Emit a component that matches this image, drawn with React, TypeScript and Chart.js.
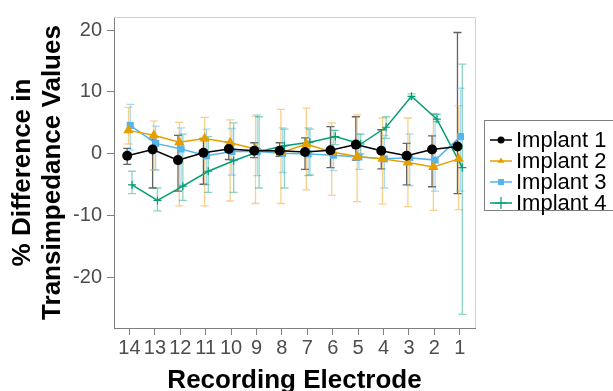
import React, { useEffect, useRef } from 'react';
import { Chart, registerables } from 'chart.js';

Chart.register(...registerables);

// ---- data ----
const electrodes = ['14', '13', '12', '11', '10', '9', '8', '7', '6', '5', '4', '3', '2', '1'];
const yTickValues = [-20, -10, 0, 10, 20];

const implant1 = [-0.3, 0.7, -1.0, 0.2, 0.8, 0.5, 0.5, 0.3, 0.6, 1.5, 0.5, -0.3, 0.7, 1.2];
const implant1Low = [-1.7, -5.5, -6.0, -4.9, -0.9, -0.6, -0.4, -2.5, -2.2, -1.0, -2.4, -5.0, -5.3, -6.4];
const implant1High = [0.9, 2.4, 3.0, 2.5, 1.9, 1.8, 1.8, 2.6, 4.4, 6.0, 3.9, 1.7, 2.9, 19.6];

const implant2 = [3.8, 3.0, 1.9, 2.5, 1.8, 0.8, 0.2, 1.6, 0.3, -0.4, -0.8, -1.4, -2.1, -0.8];
const implant2Low = [1.6, -2.6, -8.4, -8.4, -7.6, -8.0, -8.0, -5.8, -6.7, -7.7, -8.1, -8.5, -9.1, -9.0];
const implant2High = [7.5, 5.3, 5.1, 5.9, 5.5, 6.1, 7.2, 7.4, 5.0, 6.3, 5.8, 5.8, 6.5, 7.8];

const implant3 = [4.6, 1.7, 0.8, -0.3, 0.4, 0.4, 0.1, 0.0, -0.2, -0.5, -0.8, -0.6, -1.0, 2.8];
const implant3Low = [0.6, -2.6, -5.0, -5.0, -3.4, -3.5, -3.0, -3.5, -2.7, -2.5, -5.5, -5.1, -6.0, -6.0];
const implant3High = [8.0, 4.5, 4.2, 4.0, 4.1, 6.3, 4.2, 4.2, 3.8, 3.2, 3.0, 3.2, 6.4, 10.6];

const implant4 = [-5.0, -7.5, -5.2, -2.8, -1.1, 0.4, 1.3, 1.9, 2.8, 1.6, 4.3, 9.3, 5.6, -2.2];
const implant4Low = [-6.4, -9.2, -7.5, -6.2, -6.2, -5.5, -5.5, -3.4, 1.5, 0.0, 2.5, 8.9, 5.2, -25.9];
const implant4High = [-2.8, -5.5, 3.2, 2.8, 5.0, 6.0, 4.0, 4.0, 3.8, 3.2, 6.0, 9.7, 6.4, 14.5];

const seriesNames = ['Implant 1', 'Implant 2', 'Implant 3', 'Implant 4'];
const xTitle = 'Recording Electrode';
const yTitle = ['% Difference in', 'Transimpedance Values'];

// ---- styles ----
const FONT = '"Liberation Sans", Arial, sans-serif';
const series = [
  { name: seriesNames[0], mean: implant1, low: implant1Low, high: implant1High, color: '#000000', err: 'rgba(70,70,70,0.85)', style: 'circle', radius: 5, dodge: -0.09 },
  { name: seriesNames[1], mean: implant2, low: implant2Low, high: implant2High, color: '#E69F00', err: 'rgba(240,170,40,0.55)', style: 'triangle', radius: 6, dodge: -0.04 },
  { name: seriesNames[2], mean: implant3, low: implant3Low, high: implant3High, color: '#56B4E9', err: 'rgba(86,180,233,0.5)', style: 'rect', radius: 5, dodge: 0.03 },
  { name: seriesNames[3], mean: implant4, low: implant4Low, high: implant4High, color: '#009E73', err: 'rgba(0,158,115,0.45)', style: 'cross', radius: 4, dodge: 0.1 },
];

function drawMarker(ctx: CanvasRenderingContext2D, style: string, x: number, y: number, r: number, color: string) {
  ctx.save();
  ctx.fillStyle = color;
  ctx.strokeStyle = color;
  ctx.lineWidth = 1.2;
  ctx.beginPath();
  if (style === 'circle') {
    ctx.arc(x, y, r, 0, Math.PI * 2);
    ctx.fill();
  } else if (style === 'triangle') {
    const h = r * 1.5;
    ctx.moveTo(x, y - h * 0.66);
    ctx.lineTo(x + r, y + h * 0.34);
    ctx.lineTo(x - r, y + h * 0.34);
    ctx.closePath();
    ctx.fill();
  } else if (style === 'rect') {
    ctx.rect(x - r * 0.85, y - r * 0.85, r * 1.7, r * 1.7);
    ctx.fill();
  } else {
    ctx.moveTo(x - r, y);
    ctx.lineTo(x + r, y);
    ctx.moveTo(x, y - r);
    ctx.lineTo(x, y + r);
    ctx.stroke();
  }
  ctx.restore();
}

const errorBarPlugin = {
  id: 'errorBars',
  beforeDatasetsDraw(chart: any) {
    const ctx = chart.ctx;
    const yScale = chart.scales.y;
    chart.data.datasets.forEach((ds: any, di: number) => {
      const meta = chart.getDatasetMeta(di);
      ctx.save();
      ctx.strokeStyle = ds.errColor;
      ctx.lineWidth = 1.3;
      meta.data.forEach((el: any, i: number) => {
        const x = el.x;
        const yl = yScale.getPixelForValue(ds.errLow[i]);
        const yh = yScale.getPixelForValue(ds.errHigh[i]);
        const cap = 4;
        ctx.beginPath();
        ctx.moveTo(x, yl);
        ctx.lineTo(x, yh);
        ctx.moveTo(x - cap, yl);
        ctx.lineTo(x + cap, yl);
        ctx.moveTo(x - cap, yh);
        ctx.lineTo(x + cap, yh);
        ctx.stroke();
      });
      ctx.restore();
    });
  },
};

const decorPlugin = {
  id: 'decor',
  afterDraw(chart: any) {
    const ctx = chart.ctx;
    const a = chart.chartArea;
    ctx.save();
    // panel top & right border
    ctx.strokeStyle = '#cfcfcf';
    ctx.lineWidth = 1;
    ctx.beginPath();
    ctx.moveTo(a.left, a.top + 0.5);
    ctx.lineTo(a.right + 0.5, a.top + 0.5);
    ctx.lineTo(a.right + 0.5, a.bottom);
    ctx.stroke();

    // axis titles
    ctx.fillStyle = '#000000';
    ctx.font = `bold 26px ${FONT}`;
    ctx.textAlign = 'center';
    ctx.textBaseline = 'alphabetic';
    ctx.fillText(xTitle, (a.left + a.right) / 2, 388);

    const cy = (a.top + a.bottom) / 2;
    ctx.save();
    ctx.translate(30, cy);
    ctx.rotate(-Math.PI / 2);
    ctx.fillText(yTitle[0], 0, 0);
    ctx.restore();
    ctx.save();
    ctx.translate(60, cy);
    ctx.rotate(-Math.PI / 2);
    ctx.fillText(yTitle[1], 0, 0);
    ctx.restore();

    // legend
    const lx = 484;
    const ly = 120;
    ctx.strokeStyle = '#7f7f7f';
    ctx.lineWidth = 1;
    ctx.strokeRect(lx + 0.5, ly + 0.5, 160, 90);
    ctx.font = `22px ${FONT}`;
    ctx.textAlign = 'left';
    ctx.textBaseline = 'middle';
    series.forEach((s, i) => {
      const y = ly + 20 + i * 21;
      ctx.strokeStyle = s.color;
      ctx.lineWidth = 1.5;
      ctx.beginPath();
      ctx.moveTo(lx + 6, y);
      ctx.lineTo(lx + 28, y);
      ctx.stroke();
      drawMarker(ctx, s.style, lx + 17, y, s.style === 'cross' ? 6 : 3.5, s.color);
      ctx.fillStyle = '#000000';
      ctx.fillText(s.name, lx + 32, y + 1);
    });
    ctx.restore();
  },
};

export default function App() {
  const ref = useRef<HTMLCanvasElement | null>(null);

  useEffect(() => {
    document.body.style.margin = '0';
    const canvas = ref.current;
    if (!canvas) return;
    const tickFont = { family: FONT, size: 20 };
    const chart = new Chart(canvas, {
      type: 'line',
      data: {
        datasets: series.map((s) => ({
          label: s.name,
          data: s.mean.map((v, i) => ({ x: i + s.dodge, y: v })),
          borderColor: s.color,
          backgroundColor: s.color,
          borderWidth: 1.5,
          pointStyle: s.style as any,
          pointRadius: s.radius,
          pointBorderWidth: s.style === 'cross' ? 1.2 : 0,
          pointBorderColor: s.color,
          pointBackgroundColor: s.color,
          tension: 0,
          fill: false,
          errLow: s.low,
          errHigh: s.high,
          errColor: s.err,
        })) as any,
      },
      options: {
        animation: false,
        responsive: false,
        maintainAspectRatio: false,
        events: [],
        layout: { padding: { top: 10, right: 138, left: 0, bottom: 0 } },
        plugins: { legend: { display: false }, tooltip: { enabled: false } },
        scales: {
          x: {
            type: 'linear',
            min: -0.61,
            max: 13.6,
            afterBuildTicks: (s: any) => {
              s.ticks = electrodes.map((_, i) => ({ value: i }));
            },
            afterFit: (s: any) => {
              s.height = 63;
            },
            ticks: {
              autoSkip: false,
              maxRotation: 0,
              minRotation: 0,
              padding: 1,
              color: '#4d4d4d',
              font: tickFont,
              callback: (v: any) => electrodes[Math.round(Number(v))] ?? '',
            },
            grid: { drawOnChartArea: false, drawTicks: true, tickLength: 7, color: '#7f7f7f' },
            border: { display: true, color: '#7f7f7f', width: 1 },
          },
          y: {
            type: 'linear',
            min: -28.1,
            max: 22.1,
            afterBuildTicks: (s: any) => {
              s.ticks = yTickValues.map((v) => ({ value: v }));
            },
            afterFit: (s: any) => {
              s.width = 114;
            },
            ticks: { padding: 5, color: '#4d4d4d', font: tickFont },
            grid: { drawOnChartArea: false, drawTicks: true, tickLength: 7, color: '#7f7f7f' },
            border: { display: true, color: '#7f7f7f', width: 1 },
          },
        },
      } as any,
      plugins: [errorBarPlugin, decorPlugin],
    });
    return () => chart.destroy();
  }, []);

  return <canvas ref={ref} width={613} height={391} style={{ display: 'block', width: 613, height: 391 }} />;
}
